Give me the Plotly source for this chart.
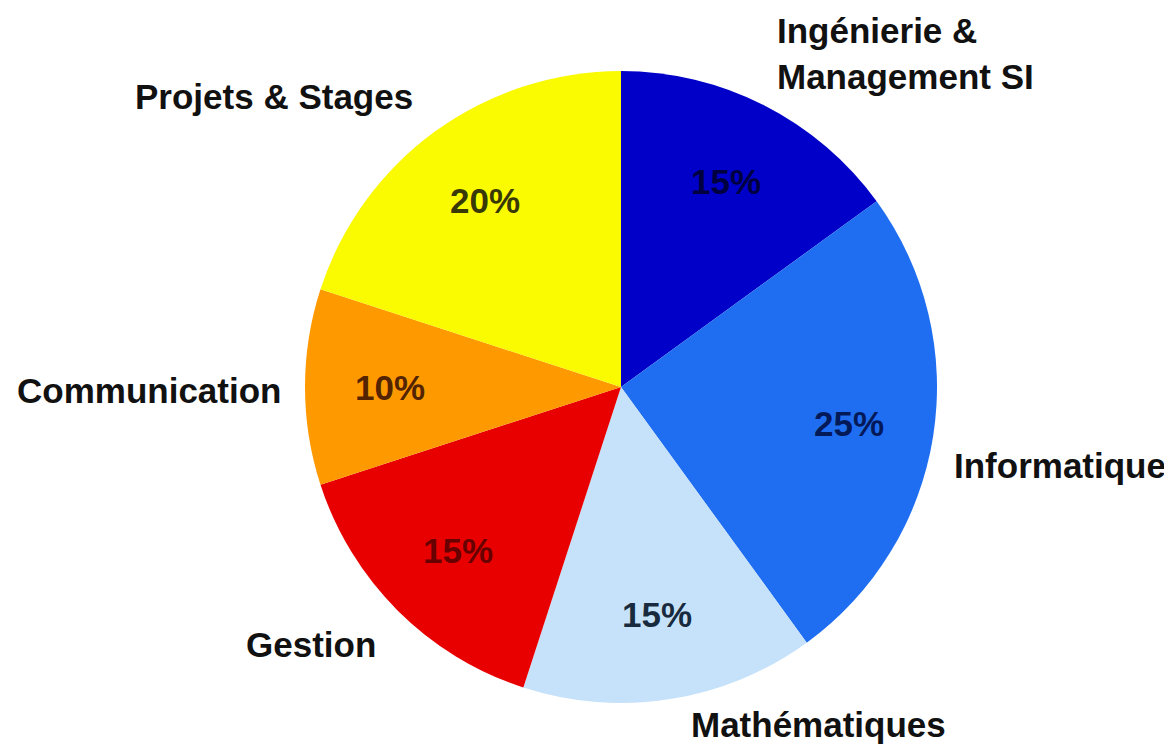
import math
import plotly.graph_objects as go

# ---- data ----
categories = ["Ingénierie & Management SI", "Informatique", "Mathématiques",
              "Gestion", "Communication", "Projets & Stages"]
values = [15, 25, 15, 15, 10, 20]
label_text = ["Ingénierie &<br>Management SI", "Informatique", "Mathématiques",
              "Gestion", "Communication", "Projets & Stages"]

# ---- styles ----
colors = ["#0000C8", "#1F6EF2", "#C6E2FB", "#E80000", "#FF9900", "#FAFA00"]
pct_colors = ["rgba(0,0,40,0.85)", "rgba(0,10,60,0.85)", "rgba(15,30,50,0.95)",
              "rgba(70,0,0,0.8)", "rgba(60,20,0,0.9)", "rgba(30,30,10,0.9)"]
W, H = 1172, 751
OFF = 8  # page body margin offset
CX, CY, R = 621 - OFF, 387 - OFF, 316  # pie centre / radius in px (layout)
FONT = "Liberation Sans, Arial, sans-serif"
FS = 35

# label positions (px in screenshot): x, y, xanchor
label_pos = [(775, 53, "left"), (1060, 465, "center"), (818, 724, "center"),
             (311, 644, "center"), (149, 390, "center"), (274, 96, "center")]

fig = go.Figure()
fig.add_trace(go.Pie(
    labels=categories, values=values, sort=False, direction="clockwise",
    rotation=0, textinfo="none", hoverinfo="label+percent",
    marker=dict(colors=colors, line=dict(width=0)),
    domain=dict(x=[(CX - R) / W, (CX + R) / W], y=[(H - CY - R) / H, (H - CY + R) / H]),
    showlegend=False,
))

annotations = []
total = sum(values)
cum = 0
for v, c in zip(values, pct_colors):
    mid = 90 - (cum + v / 2) / total * 360
    cum += v
    rr = 0.73 * R
    px = CX + rr * math.cos(math.radians(mid))
    py = CY - rr * math.sin(math.radians(mid))
    annotations.append(dict(
        x=px / W, y=1 - py / H, xref="paper", yref="paper", showarrow=False,
        text=f"<b>{round(v / total * 100)}%</b>", xanchor="center", yanchor="middle",
        font=dict(family=FONT, size=FS, color=c)))

for t, (lx, ly, xa) in zip(label_text, label_pos):
    annotations.append(dict(
        x=(lx - OFF) / W, y=1 - (ly - OFF) / H, xref="paper", yref="paper", showarrow=False,
        text=f"<b>{t}</b>", xanchor=xa, yanchor="middle", align="left",
        font=dict(family=FONT, size=FS, color="#111111")))

fig.update_layout(
    width=W, height=H, margin=dict(l=0, r=0, t=0, b=0),
    paper_bgcolor="white", plot_bgcolor="white",
    annotations=annotations,
)

fig.write_html("out.html")
